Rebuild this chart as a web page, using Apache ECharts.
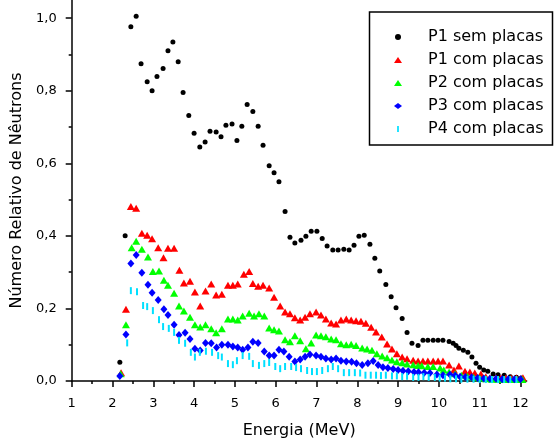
<!DOCTYPE html>
<html><head><meta charset="utf-8">
<script src="https://cdn.jsdelivr.net/npm/echarts@6/dist/echarts.min.js"></script>
<style>html,body{margin:0;padding:0;background:#fff}#c{width:556px;height:444px}</style>
</head><body><div id="c"></div>
<script>
const seriesNames = ['P1 sem placas','P1 com placas','P2 com placas','P3 com placas','P4 com placas'];
const xTicks = [1,2,3,4,5,6,7,8,9,10,11,12];
const xMinorTicks = [1.5,2.5,3.5,4.5,5.5,6.5,7.5,8.5,9.5,10.5,11.5];
const yTicks = [0,0.2,0.4,0.6,0.8,1.0];
const yMinorTicks = [0.1,0.3,0.5,0.7,0.9];

const p1Sem = [[2.18,0.052],[2.31,0.40],[2.45,0.976],[2.58,1.005],[2.70,0.874],[2.85,0.825],[2.97,0.80],[3.09,0.839],[3.24,0.861],[3.36,0.91],[3.48,0.934],[3.61,0.88],[3.73,0.795],[3.87,0.732],[4.00,0.683],[4.14,0.645],[4.27,0.659],[4.39,0.688],[4.54,0.686],[4.66,0.673],[4.78,0.705],[4.93,0.708],[5.05,0.663],[5.17,0.702],[5.30,0.762],[5.44,0.743],[5.57,0.702],[5.69,0.650],[5.84,0.593],[5.96,0.574],[6.08,0.549],[6.23,0.467],[6.35,0.396],[6.47,0.380],[6.62,0.388],[6.74,0.399],[6.87,0.413],[7.01,0.413],[7.14,0.393],[7.26,0.372],[7.40,0.361],[7.53,0.361],[7.67,0.363],[7.80,0.361],[7.92,0.374],[8.04,0.399],[8.17,0.402],[8.31,0.377],[8.43,0.338],[8.55,0.303],[8.70,0.266],[8.83,0.232],[8.95,0.202],[9.10,0.172],[9.22,0.134],[9.34,0.104],[9.49,0.098],[9.61,0.112],[9.73,0.112],[9.86,0.112],[9.98,0.112],[10.10,0.112],[10.25,0.109],[10.35,0.104],[10.42,0.098],[10.49,0.090],[10.60,0.085],[10.71,0.079],[10.81,0.066],[10.91,0.049],[11.00,0.038],[11.10,0.030],[11.20,0.027],[11.33,0.019],[11.45,0.017],[11.60,0.016],[11.75,0.012],[11.90,0.010],[12.02,0.008]];

const p1Com = [[2.21,0.023],[2.33,0.198],[2.45,0.481],[2.58,0.476],[2.72,0.407],[2.85,0.402],[2.97,0.392],[3.12,0.367],[3.25,0.34],[3.36,0.366],[3.51,0.366],[3.64,0.305],[3.75,0.27],[3.90,0.275],[4.02,0.245],[4.15,0.207],[4.28,0.248],[4.42,0.267],[4.54,0.237],[4.68,0.239],[4.83,0.264],[4.95,0.264],[5.07,0.267],[5.22,0.294],[5.35,0.302],[5.44,0.269],[5.57,0.261],[5.69,0.264],[5.84,0.256],[5.96,0.231],[6.11,0.207],[6.23,0.19],[6.35,0.185],[6.47,0.174],[6.60,0.168],[6.72,0.176],[6.84,0.185],[6.99,0.19],[7.11,0.182],[7.23,0.171],[7.36,0.16],[7.48,0.157],[7.60,0.168],[7.73,0.171],[7.85,0.168],[7.97,0.166],[8.09,0.165],[8.21,0.159],[8.34,0.148],[8.46,0.135],[8.60,0.121],[8.73,0.102],[8.85,0.088],[8.97,0.075],[9.10,0.066],[9.22,0.061],[9.37,0.057],[9.49,0.055],[9.61,0.055],[9.73,0.055],[9.86,0.055],[9.98,0.055],[10.10,0.055],[10.25,0.044],[10.37,0.030],[10.49,0.041],[10.64,0.027],[10.76,0.025],[10.88,0.022],[11.03,0.019],[11.15,0.012],[11.25,0.008],[11.40,0.008],[11.52,0.008],[11.64,0.008],[11.77,0.008],[11.90,0.008],[12.06,0.009]];

const p2Com = [[2.20,0.02],[2.33,0.155],[2.47,0.367],[2.58,0.385],[2.72,0.363],[2.87,0.342],[2.99,0.302],[3.14,0.303],[3.26,0.278],[3.36,0.264],[3.51,0.242],[3.63,0.207],[3.75,0.193],[3.90,0.176],[4.02,0.155],[4.15,0.149],[4.28,0.155],[4.42,0.144],[4.54,0.133],[4.68,0.144],[4.83,0.171],[4.95,0.171],[5.07,0.168],[5.19,0.179],[5.35,0.187],[5.47,0.179],[5.59,0.185],[5.72,0.179],[5.84,0.146],[5.96,0.141],[6.08,0.138],[6.23,0.114],[6.35,0.108],[6.47,0.125],[6.60,0.111],[6.74,0.089],[6.87,0.105],[6.99,0.127],[7.11,0.125],[7.23,0.122],[7.36,0.116],[7.48,0.114],[7.60,0.103],[7.73,0.100],[7.85,0.101],[7.97,0.098],[8.12,0.091],[8.24,0.088],[8.36,0.085],[8.48,0.075],[8.61,0.069],[8.73,0.064],[8.85,0.058],[8.97,0.053],[9.10,0.050],[9.22,0.047],[9.37,0.045],[9.49,0.043],[9.58,0.042],[9.73,0.040],[9.86,0.040],[10.03,0.036],[10.12,0.030],[10.25,0.025],[10.40,0.020],[10.55,0.016],[10.70,0.013],[10.85,0.010],[11.00,0.008],[11.15,0.006],[11.30,0.005],[11.45,0.005],[11.60,0.004],[11.75,0.004],[11.90,0.004],[12.05,0.004]];

const p3Com = [[2.18,0.014],[2.33,0.128],[2.45,0.324],[2.58,0.347],[2.72,0.298],[2.87,0.265],[2.97,0.243],[3.12,0.223],[3.26,0.198],[3.36,0.182],[3.51,0.155],[3.63,0.127],[3.78,0.133],[3.90,0.116],[4.02,0.089],[4.15,0.084],[4.28,0.105],[4.42,0.104],[4.55,0.092],[4.68,0.100],[4.83,0.100],[4.95,0.095],[5.07,0.092],[5.19,0.086],[5.32,0.092],[5.44,0.108],[5.57,0.105],[5.72,0.081],[5.84,0.070],[5.96,0.070],[6.08,0.086],[6.20,0.081],[6.33,0.067],[6.47,0.054],[6.60,0.059],[6.72,0.067],[6.84,0.073],[6.99,0.070],[7.11,0.067],[7.23,0.062],[7.36,0.059],[7.48,0.062],[7.60,0.056],[7.73,0.054],[7.86,0.053],[7.98,0.049],[8.12,0.044],[8.26,0.049],[8.39,0.055],[8.51,0.044],[8.63,0.038],[8.75,0.036],[8.88,0.033],[9.00,0.030],[9.12,0.028],[9.25,0.027],[9.39,0.025],[9.50,0.024],[9.64,0.023],[9.78,0.022],[9.95,0.018],[10.10,0.016],[10.27,0.018],[10.40,0.015],[10.52,0.012],[10.65,0.011],[10.80,0.010],[10.95,0.008],[11.10,0.007],[11.25,0.006],[11.40,0.006],[11.55,0.005],[11.70,0.005],[11.85,0.005],[12.00,0.005]];

const p4Com = [[2.36,0.105],[2.45,0.249],[2.60,0.246],[2.75,0.208],[2.85,0.205],[2.99,0.194],[3.14,0.169],[3.24,0.150],[3.38,0.145],[3.51,0.134],[3.63,0.112],[3.78,0.104],[3.92,0.079],[4.02,0.066],[4.14,0.079],[4.29,0.082],[4.44,0.079],[4.59,0.070],[4.68,0.066],[4.83,0.048],[4.95,0.045],[5.05,0.056],[5.19,0.070],[5.35,0.068],[5.44,0.048],[5.59,0.043],[5.72,0.048],[5.84,0.051],[5.99,0.040],[6.11,0.034],[6.23,0.040],[6.38,0.040],[6.50,0.037],[6.62,0.034],[6.77,0.029],[6.89,0.026],[7.01,0.026],[7.14,0.029],[7.28,0.034],[7.40,0.040],[7.53,0.034],[7.67,0.023],[7.80,0.023],[7.94,0.023],[8.07,0.022],[8.20,0.016],[8.33,0.016],[8.46,0.016],[8.58,0.015],[8.70,0.016],[8.85,0.014],[8.97,0.014],[9.10,0.012],[9.22,0.013],[9.37,0.010],[9.50,0.010],[9.62,0.012],[9.75,0.010],[9.90,0.010],[10.02,0.008],[10.15,0.008],[10.28,0.006],[10.42,0.006],[10.55,0.005],[10.70,0.005],[10.85,0.005],[11.00,0.004],[11.15,0.004],[11.30,0.004],[11.45,0.004],[11.60,0.004],[11.75,0.004],[11.90,0.004]];

const FONT = '"DejaVu Sans", sans-serif';
const chart = echarts.init(document.getElementById('c'), null, {renderer:'canvas'});
const axisLineStyle = {color:'#000', width:1.5};
const fmtY = v => v.toFixed(1).replace('.', ',');

chart.setOption({
  animation:false,
  backgroundColor:'#fff',
  grid:{left:71.7, top:0, right:29.4, bottom:60.7, containLabel:false},
  xAxis:[{
    type:'value', min:1, max:12.15, position:'bottom',
    axisLine:{onZero:false, lineStyle:axisLineStyle},
    axisTick:{customValues:xTicks, length:6, lineStyle:{color:'#000', width:1.5}},
    axisLabel:{customValues:xTicks, fontSize:13, fontFamily:FONT, color:'#000', margin:16},
    splitLine:{show:false},
    name:'Energia (MeV)', nameLocation:'middle', nameGap:42,
    nameTextStyle:{fontSize:16, fontFamily:FONT, color:'#000'}
  },{
    type:'value', min:1, max:12.15, position:'bottom',
    axisLine:{show:false, onZero:false},
    axisTick:{customValues:xMinorTicks, length:3, lineStyle:{color:'#000', width:1.5}},
    axisLabel:{show:false}, splitLine:{show:false}
  }],
  yAxis:[{
    type:'value', min:0, max:1.05, position:'left',
    axisLine:{show:true, onZero:false, lineStyle:axisLineStyle},
    axisTick:{show:true, customValues:yTicks, length:6, lineStyle:{color:'#000', width:1.5}},
    axisLabel:{customValues:yTicks, formatter:fmtY, fontSize:13, fontFamily:FONT, color:'#000', margin:15},
    splitLine:{show:false},
    name:'Número Relativo de Nêutrons', nameLocation:'middle', nameGap:46,
    nameTextStyle:{fontSize:16, fontFamily:FONT, color:'#000'}
  },{
    type:'value', min:0, max:1.05, position:'left',
    axisLine:{show:false, onZero:false},
    axisTick:{show:true, customValues:yMinorTicks, length:3, lineStyle:{color:'#000', width:1.5}},
    axisLabel:{show:false}, splitLine:{show:false}
  }],
  legend:{
    orient:'vertical', left:389, top:24, itemWidth:8, itemHeight:6, itemGap:7,
    symbolKeepAspect:true,
    textStyle:{fontSize:16, fontFamily:FONT, color:'#000', lineHeight:16, padding:[0,0,0,21]},
    data:[
      {name:seriesNames[0], icon:'circle'},
      {name:seriesNames[1], icon:'triangle'},
      {name:seriesNames[2], icon:'triangle'},
      {name:seriesNames[3], icon:'diamond'},
      {name:seriesNames[4], icon:'path://M0,0L2,0L2,7L0,7Z'}
    ]
  },
  graphic:[{type:'rect', shape:{x:369.5, y:12, width:183, height:133}, style:{fill:null, stroke:'#000', lineWidth:1.5}, z:-1}],
  series:[
    {name:seriesNames[0], type:'scatter', data:p1Sem, symbol:'circle', symbolSize:5, itemStyle:{color:'#000', opacity:1}},
    {name:seriesNames[1], type:'scatter', data:p1Com, symbol:'triangle', symbolSize:[8,7], itemStyle:{color:'#ff0000', opacity:1}},
    {name:seriesNames[2], type:'scatter', data:p2Com, symbol:'triangle', symbolSize:[8,7], itemStyle:{color:'#00ff00', opacity:1}},
    {name:seriesNames[3], type:'scatter', data:p3Com, symbol:'diamond', symbolSize:[7,8], itemStyle:{color:'#0000ff', opacity:1}},
    {name:seriesNames[4], type:'scatter', data:p4Com, symbol:'rect', symbolSize:[2,7], itemStyle:{color:'#00e0ff', opacity:1}}
  ]
});
</script></body></html>
